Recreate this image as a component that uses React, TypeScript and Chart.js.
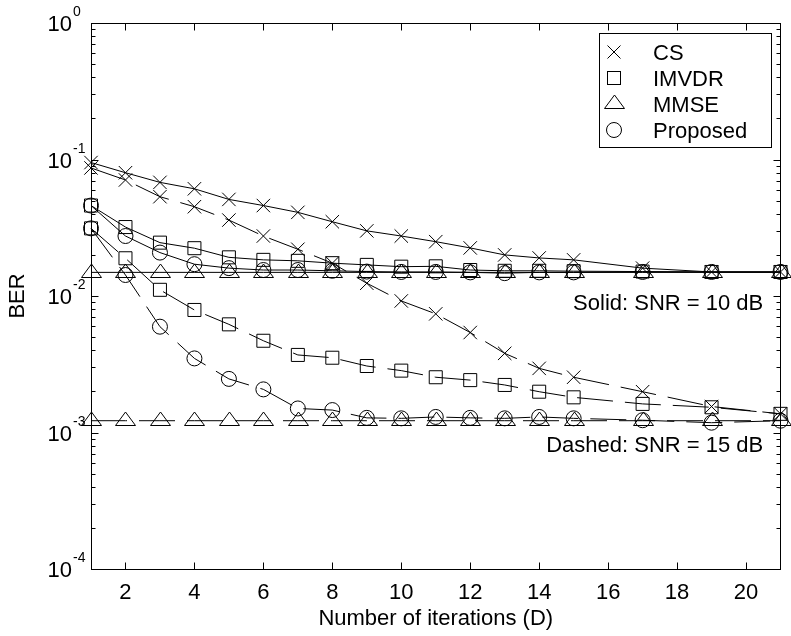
import React, { useEffect, useRef } from 'react';
import { Chart, registerables } from 'chart.js';

Chart.register(...registerables);

// Iteration counts at which BER was evaluated
const iterations = [1, 2, 3, 4, 5, 6, 7, 8, 9, 10, 11, 12, 13, 14, 15, 17, 19, 21];

// SNR = 10 dB (solid lines)
const csSnr10 = [0.095, 0.08, 0.068, 0.061, 0.051, 0.046, 0.041, 0.035, 0.03, 0.0275, 0.025, 0.0225, 0.02, 0.019, 0.0184, 0.016, 0.015, 0.015];
const imvdrSnr10 = [0.046, 0.032, 0.0246, 0.0224, 0.0192, 0.0184, 0.0181, 0.0174, 0.0169, 0.0164, 0.0165, 0.0155, 0.0153, 0.0153, 0.0152, 0.0151, 0.015, 0.015];
const mmseSnr10 = [0.0149, 0.0149, 0.0149, 0.0149, 0.0149, 0.0149, 0.0149, 0.0149, 0.0149, 0.0149, 0.0149, 0.0149, 0.0149, 0.0149, 0.0149, 0.0149, 0.0149, 0.0149];
const proposedSnr10 = [0.046, 0.0275, 0.0208, 0.0171, 0.016, 0.0155, 0.0155, 0.0153, 0.0151, 0.015, 0.015, 0.0149, 0.0147, 0.0149, 0.0149, 0.015, 0.015, 0.015];

// SNR = 15 dB (dashed lines)
const csSnr15 = [0.0867, 0.0708, 0.0534, 0.0451, 0.036, 0.0275, 0.022, 0.0174, 0.0124, 0.0092, 0.0074, 0.0054, 0.0038, 0.00295, 0.00254, 0.00199, 0.00155, 0.00137];
const imvdrSnr15 = [0.0313, 0.0189, 0.0111, 0.0079, 0.0062, 0.0047, 0.0037, 0.00353, 0.00307, 0.00284, 0.00254, 0.00242, 0.00223, 0.00199, 0.00181, 0.00162, 0.00153, 0.00137];
const mmseSnr15 = [0.00122, 0.00122, 0.00122, 0.00122, 0.00122, 0.00122, 0.00122, 0.00122, 0.00122, 0.00122, 0.00122, 0.00122, 0.00122, 0.00122, 0.00122, 0.00122, 0.00122, 0.00122];
const proposedSnr15 = [0.0313, 0.01425, 0.00596, 0.00349, 0.00247, 0.00207, 0.0015, 0.00146, 0.00128, 0.00127, 0.0013, 0.00128, 0.00127, 0.0013, 0.00127, 0.00123, 0.00118, 0.00122];

const methodNames = ['CS', 'IMVDR', 'MMSE', 'Proposed'];
const xTickValues = [2, 4, 6, 8, 10, 12, 14, 16, 18, 20];
const yDecadeExponents = [-4, -3, -2, -1, 0];

const xAxisTitle = 'Number of iterations (D)';
const yAxisTitle = 'BER';
const solidNote = 'Solid: SNR = 10 dB';
const dashedNote = 'Dashed: SNR = 15 dB';
// anchor (right edge, baseline) of each note in data units
const solidNoteAt = { x: 20.5, y: 0.0079 };
const dashedNoteAt = { x: 20.5, y: 0.00072 };

const FONT = "'Liberation Sans', Arial, Helvetica, sans-serif";
const DASH = [36, 12];
const TRIANGLE_KIND = 2;

// MATLAB-style '^' marker: apex above the point, flat base below it
function strokeTriangle(ctx: CanvasRenderingContext2D, x: number, y: number) {
  const cx = Math.round(x) + 0.5;
  const base = Math.round(y + 4.5) + 0.5;
  const apex = base - 13.5;
  ctx.beginPath();
  ctx.moveTo(cx, apex);
  ctx.lineTo(cx + 10, base);
  ctx.lineTo(cx - 10, base);
  ctx.closePath();
  ctx.stroke();
}

export default function App() {
  const canvasRef = useRef<HTMLCanvasElement>(null);

  useEffect(() => {
    const canvas = canvasRef.current;
    if (!canvas) return;

    const series = (label: string, values: number[], kind: number, style: any, radius: number, dashed: boolean) => ({
      label,
      data: iterations.map((x, i) => ({ x, y: values[i] })),
      borderColor: '#000',
      borderWidth: 1,
      borderDash: dashed ? DASH : [],
      pointStyle: style,
      pointRadius: kind === TRIANGLE_KIND ? 0 : radius,
      pointBorderColor: '#000',
      pointBackgroundColor: 'rgba(0,0,0,0)',
      pointBorderWidth: 1,
      fill: false,
      tension: 0,
      clip: false as any,
      markerKind: kind,
    });

    const styles: any[] = ['crossRot', 'rect', 'triangle', 'circle'];
    const radii = [9.5, 9.2, 10, 7.5];
    const solid = [csSnr10, imvdrSnr10, mmseSnr10, proposedSnr10];
    const dashed = [csSnr15, imvdrSnr15, mmseSnr15, proposedSnr15];
    const datasets: any[] = [];
    methodNames.forEach((name, i) => {
      datasets.push(series(name + ' (10 dB)', solid[i], i, styles[i], radii[i], false));
      datasets.push(series(name + ' (15 dB)', dashed[i], i, styles[i], radii[i], true));
    });

    const drawMarker = (ctx: CanvasRenderingContext2D, kind: number, x: number, y: number) => {
      ctx.beginPath();
      if (kind === 0) {
        ctx.moveTo(x - 6.5, y - 6.5);
        ctx.lineTo(x + 6.5, y + 6.5);
        ctx.moveTo(x + 6.5, y - 6.5);
        ctx.lineTo(x - 6.5, y + 6.5);
        ctx.stroke();
      } else if (kind === 1) {
        ctx.strokeRect(x - 6.5, y - 6.5, 13, 13);
      } else if (kind === 2) {
        strokeTriangle(ctx, x - 0.5, y - 0.5);
      } else {
        ctx.arc(x, y, 7.5, 0, Math.PI * 2);
        ctx.stroke();
      }
    };

    const framePlugin = {
      id: 'matlabFrame',
      afterDatasetsDraw(chart: any) {
        // triangle markers, placed at the points the line controller computed
        const { ctx } = chart;
        ctx.save();
        ctx.strokeStyle = '#000';
        ctx.lineWidth = 1;
        ctx.setLineDash([]);
        chart.data.datasets.forEach((ds: any, i: number) => {
          if (ds.markerKind !== TRIANGLE_KIND) return;
          chart.getDatasetMeta(i).data.forEach((pt: any) => strokeTriangle(ctx, pt.x, pt.y));
        });
        ctx.restore();
      },
      afterDraw(chart: any) {
        const { ctx, chartArea: a, scales } = chart;
        const xs = scales.x;
        const ys = scales.y;
        const L = Math.round(a.left) + 0.5;
        const R = Math.round(a.right) - 0.5;
        const T = Math.round(a.top) + 0.5;
        const B = Math.round(a.bottom) + 0.5;
        ctx.save();
        ctx.strokeStyle = '#000';
        ctx.fillStyle = '#000';
        ctx.lineWidth = 1;
        ctx.setLineDash([]);

        // axes box
        ctx.strokeRect(L, T, R - L, B - T);

        // inward ticks on x (bottom and top)
        ctx.beginPath();
        xTickValues.forEach((v) => {
          const px = Math.round(xs.getPixelForValue(v)) + 0.5;
          ctx.moveTo(px, B);
          ctx.lineTo(px, B - 7);
          ctx.moveTo(px, T);
          ctx.lineTo(px, T + 7);
        });
        // inward ticks on y (left and right), majors and log minors
        yDecadeExponents.forEach((e) => {
          const py = Math.round(ys.getPixelForValue(Math.pow(10, e))) + 0.5;
          ctx.moveTo(L, py);
          ctx.lineTo(L + 7, py);
          ctx.moveTo(R, py);
          ctx.lineTo(R - 7, py);
          if (e < 0) {
            for (let m = 2; m <= 9; m++) {
              const pm = Math.round(ys.getPixelForValue(m * Math.pow(10, e))) + 0.5;
              ctx.moveTo(L, pm);
              ctx.lineTo(L + 4, pm);
              ctx.moveTo(R, pm);
              ctx.lineTo(R - 4, pm);
            }
          }
        });
        ctx.stroke();

        // y tick labels: 10 with superscript exponent
        yDecadeExponents.forEach((e) => {
          const py = ys.getPixelForValue(Math.pow(10, e));
          ctx.font = `22px ${FONT}`;
          ctx.textAlign = 'right';
          ctx.textBaseline = 'alphabetic';
          ctx.fillText('10', a.left - 19, py + 8);
          ctx.font = `14px ${FONT}`;
          ctx.textAlign = 'left';
          ctx.fillText(String(e), a.left - 18, py - 7);
        });

        // SNR notes
        ctx.font = `22px ${FONT}`;
        ctx.textAlign = 'right';
        ctx.textBaseline = 'alphabetic';
        ctx.fillText(solidNote, xs.getPixelForValue(solidNoteAt.x), ys.getPixelForValue(solidNoteAt.y));
        ctx.fillText(dashedNote, xs.getPixelForValue(dashedNoteAt.x), ys.getPixelForValue(dashedNoteAt.y));

        // legend
        const bx = Math.round(a.right) - 181.5;
        const by = Math.round(a.top) + 10.5;
        ctx.fillStyle = '#fff';
        ctx.fillRect(bx, by, 172, 114);
        ctx.strokeRect(bx, by, 172, 114);
        ctx.fillStyle = '#000';
        ctx.textAlign = 'left';
        methodNames.forEach((name, i) => {
          const cy = by + 18.5 + 26 * i;
          drawMarker(ctx, i, bx + 14.5, cy);
          ctx.fillText(name, bx + 53.5, cy + 8);
        });
        ctx.restore();
      },
    };

    const chart = new Chart(canvas, {
      type: 'line',
      data: { datasets },
      options: {
        animation: false,
        responsive: false,
        devicePixelRatio: 1,
        events: [],
        layout: { padding: { top: 23, right: 9, left: 0, bottom: 0 } },
        plugins: {
          legend: { display: false },
          tooltip: { enabled: false },
        },
        scales: {
          x: {
            type: 'linear',
            min: 1,
            max: 21,
            afterBuildTicks: (s: any) => {
              s.ticks = xTickValues.map((v) => ({ value: v }));
            },
            afterFit: (s: any) => {
              s.height = 67;
            },
            grid: { display: false, drawTicks: false },
            border: { display: false },
            ticks: {
              color: '#000',
              font: { family: FONT, size: 22 },
              padding: 11,
              maxRotation: 0,
              autoSkip: false,
            },
            title: {
              display: true,
              text: xAxisTitle,
              color: '#000',
              font: { family: FONT, size: 22 },
              padding: { top: 0, bottom: 4 },
            },
          },
          y: {
            type: 'logarithmic',
            min: 1e-4,
            max: 1,
            afterFit: (s: any) => {
              s.width = 91;
            },
            grid: { display: false, drawTicks: false },
            border: { display: false },
            ticks: { display: false },
            title: {
              display: true,
              text: yAxisTitle,
              color: '#000',
              font: { family: FONT, size: 22 },
              padding: { top: 5, bottom: 0 },
            },
          },
        },
      } as any,
      plugins: [framePlugin],
    });

    return () => chart.destroy();
  }, []);

  return (
    <div style={{ position: 'absolute', left: 0, top: 0, width: 791, height: 636, background: '#fff' }}>
      <canvas ref={canvasRef} width={791} height={636} style={{ display: 'block' }} />
    </div>
  );
}
